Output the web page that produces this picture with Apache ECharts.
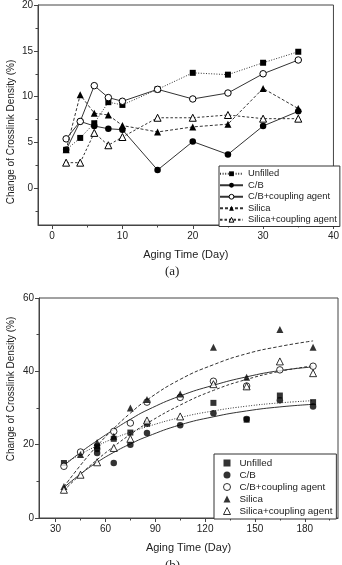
<!DOCTYPE html>
<html><head><meta charset="utf-8">
<script src="https://cdn.jsdelivr.net/npm/echarts@6/dist/echarts.min.js"></script>
<style>html,body{margin:0;padding:0;background:#fff}#c{width:342px;height:565px}</style>
</head><body><div id="c"></div>
<script>
const names = ['Unfilled','C/B','C/B+coupling agent','Silica','Silica+coupling agent'];
const yTitle = 'Change of Crosslink Density (%)';
const xTitle = 'Aging Time (Day)';
// ----- chart (a) -----
const daysA = [2,4,6,8,10,15,20,25,30,35];
const unfilledA = [4.2,5.5,7.1,9.4,9.1,10.8,12.6,12.4,13.7,14.9];
const cbA = [4.2,7.3,6.8,6.5,6.4,2.0,5.1,3.7,6.8,8.4];
const cbCoupA = [5.4,7.3,11.2,9.9,9.5,10.8,9.75,10.4,12.5,14.0];
const silicaA = [4.2,10.2,8.2,8.0,6.85,6.15,6.7,7.0,10.9,8.7];
const silicaCoupA = [2.8,2.8,6.05,4.7,5.6,7.7,7.7,8.0,7.6,7.6];
const xTicksA = [0,10,20,30,40];
const xMinorA = [5,15,25,35];
const yTicksA = [0,5,10,15,20];
const yMinorA = [-2.5,2.5,7.5,12.5,17.5];
// ----- chart (b) -----
const unfilledB = [[35,15.0],[55,19.5],[65,21.6],[75,23.3],[85,25.7],[125,31.4],[145,26.8],[165,33.4],[185,31.6]];
const cbB = [[55,18.8],[55,17.7],[65,15.0],[75,20.0],[85,23.2],[105,25.3],[125,28.6],[145,27.0],[165,32.1],[185,30.4]];
const cbCoupB = [[35,14.1],[45,18.0],[65,23.6],[75,25.9],[85,31.6],[105,32.9],[125,37.3],[145,36.0],[165,40.4],[185,41.4]];
const silicaB = [[35,8.6],[45,17.3],[55,20.6],[65,22.3],[75,30.0],[85,32.3],[105,33.8],[125,46.6],[145,38.4],[165,51.4],[185,46.6]];
const silicaCoupB = [[35,7.7],[45,11.8],[55,15.2],[65,19.1],[75,21.6],[85,26.6],[105,27.7],[125,36.5],[145,35.9],[165,42.7],[185,39.5]];
const fitDays = [35,45,55,65,75,85,105,125,145,165,185];
const unfilledFit = [14.8,17.4,19.7,21.7,23.4,24.9,27.4,29.2,30.5,31.4,32.0];
const cbFit = [8.3,12.0,15.2,17.9,20.2,22.2,25.4,27.6,29.2,30.3,31.0];
const cbCoupFit = [14.3,17.9,21.1,24.1,26.9,29.4,33.3,36.2,38.5,40.2,41.2];
const silicaFit = [8.5,14.4,19.7,24.4,28.6,32.2,37.8,41.8,44.8,46.8,48.3];
const silicaCoupFit = [7.5,11.9,15.9,19.5,22.8,25.8,30.8,34.8,37.8,40.0,41.5];
const xTicksB = [30,60,90,120,150,180];
const xMinorB = [45,75,105,135,165,195];
const yTicksB = [0,20,40,60];
const yMinorB = [10,30,50];

const FONT = 'Liberation Sans, Arial, sans-serif';
const INK = '#222';
const sym = i => ['rect','circle','circle','triangle','triangle'][i];
const filled = i => !(i===2 || i===4);
const linesA = [[1,1.6],'solid','solid',[3,2],[2.5,2]];
const linesB = [[1,1.6],'solid','solid',[3.5,2],[3,2]];
const sizes = [6,6.5,6.5,7,7];

const mainAxis = (grid, min, max, ticks, isX) => ({
  type:'value', gridIndex:grid, min, max, position: isX?'bottom':'left',
  splitLine:{show:false},
  axisLine:{show:true, onZero:false, lineStyle:{color:'#444', width:1}},
  axisTick:{show:true, inside:false, length:4, customValues:ticks, lineStyle:{color:'#444'}},
  axisLabel:{customValues:ticks, color:INK, fontSize:10, fontFamily:FONT, margin: isX?6:5},
  name: isX ? xTitle : '',
  nameLocation:'middle', nameGap:24,
  nameTextStyle:{color:INK, fontSize:11, fontFamily:FONT}
});
const minorAxis = (grid, min, max, ticks, isX) => ({
  type:'value', gridIndex:grid, min, max, position: isX?'bottom':'left',
  splitLine:{show:false}, axisLine:{show:false, onZero:false},
  axisTick:{show:true, inside:false, length:2.5, customValues:ticks, lineStyle:{color:'#444'}},
  axisLabel:{show:false}
});

const series = [];
const seriesA = [unfilledA, cbA, cbCoupA, silicaA, silicaCoupA];
seriesA.forEach((vals,i) => {
  series.push({
    name: names[i], type:'line', xAxisIndex:0, yAxisIndex:0,
    data: daysA.map((d,k)=>[d, vals[k]]),
    symbol: sym(i), symbolSize: sizes[i],
    lineStyle:{color:'#333', width:1, type: linesA[i]},
    itemStyle: filled(i) ? {color:'#000'} : {color:'#fff', borderColor:'#000', borderWidth:1},
    z: 2+i
  });
});
const fitsB = [unfilledFit, cbFit, cbCoupFit, silicaFit, silicaCoupFit];
fitsB.forEach((vals,i) => {
  series.push({
    name: 'fit'+i, type:'line', xAxisIndex:2, yAxisIndex:2, smooth:true, symbol:'none',
    data: fitDays.map((d,k)=>[d, vals[k]]),
    lineStyle:{color:'#333', width:1, type: linesB[i]}, z:1, silent:true
  });
});
const ptsB = [unfilledB, cbB, cbCoupB, silicaB, silicaCoupB];
ptsB.forEach((pts,i) => {
  series.push({
    name: names[i]+' ', type:'scatter', xAxisIndex:2, yAxisIndex:2,
    data: pts, symbol: sym(i), symbolSize: sizes[i],
    itemStyle: filled(i) ? {color:'#000'} : {color:'#fff', borderColor:'#000', borderWidth:1},
    z: 3+i
  });
});

const yName = (cy) => ({
  type:'text', x:11, y:cy, rotation:Math.PI/2,
  style:{text:yTitle, fontSize:10, fontFamily:FONT, fill:INK, align:'center', verticalAlign:'middle'}
});

const option = {
  animation:false,
  backgroundColor:'#fff',
  grid:[
    {left:38, top:5, width:300, height:220, show:true, borderColor:'#444', borderWidth:1},
    {left:39, top:298, width:299, height:220, show:true, borderColor:'#444', borderWidth:1}
  ],
  xAxis:[
    mainAxis(0,-2,40,xTicksA,true), minorAxis(0,-2,40,xMinorA,true),
    mainAxis(1,20,200,xTicksB,true), minorAxis(1,20,200,xMinorB,true)
  ],
  yAxis:[
    mainAxis(0,-4,20,yTicksA,false), minorAxis(0,-4,20,yMinorA,false),
    mainAxis(1,0,60,yTicksB,false), minorAxis(1,0,60,yMinorB,false)
  ],
  legend:[
    {orient:'vertical', left:219, top:166, data:names, itemWidth:23, itemHeight:6, itemGap:0,
     padding:[2,3,1,0], borderColor:'#333', borderWidth:1, backgroundColor:'#fff', selectedMode:false,
     itemStyle:{borderWidth:1},
     textStyle:{color:INK, fontSize:9.4, fontFamily:FONT, lineHeight:11.5}},
    {orient:'vertical', left:214, top:454, data:names.map(n=>n+' '), itemWidth:7, itemHeight:7, itemGap:0,
     padding:[3,4,2,9], borderColor:'#333', borderWidth:1, backgroundColor:'#fff', selectedMode:false,
     itemStyle:{borderWidth:1},
     formatter: n => n.trim(),
     textStyle:{color:INK, fontSize:9.8, fontFamily:FONT, lineHeight:12, padding:[0,0,0,4]}}
  ],
  graphic:[
    yName(132), yName(389),
    {type:'text', left:165, top:265, style:{text:'(a)', fontSize:13, fontFamily:'Liberation Serif, Times New Roman, serif', fill:INK}},
    {type:'text', left:165, top:559, style:{text:'(b)', fontSize:13, fontFamily:'Liberation Serif, Times New Roman, serif', fill:INK}}
  ],
  series
};
const chart = echarts.init(document.getElementById('c'), null, {renderer:'canvas'});
chart.setOption(option);
</script>
</body></html>
